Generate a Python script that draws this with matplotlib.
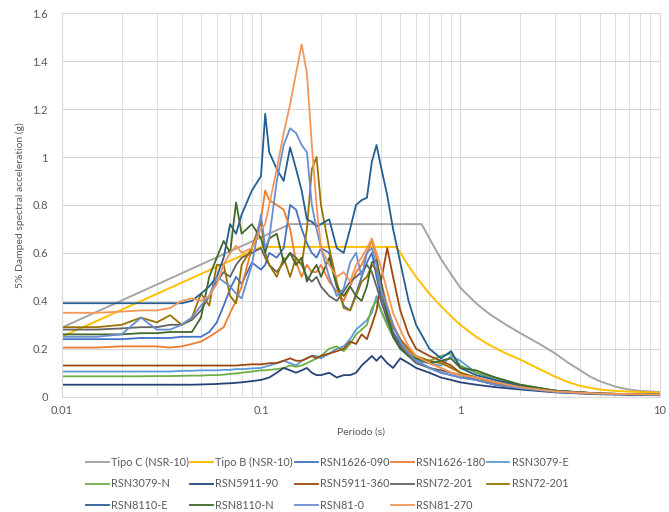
import numpy as np
import matplotlib
matplotlib.use("Agg")
import matplotlib.pyplot as plt
from matplotlib.ticker import FixedLocator, NullFormatter, LogLocator

plt.rcParams['font.family'] = ['Lato', 'DejaVu Sans']

# ---------- Design spectra (NSR-10) ----------
tipo_c_T = [0.01, 0.14, 0.64, 0.7, 0.8, 0.9, 1.0, 1.2, 1.4, 1.7, 2.0, 2.5, 3.0,
            3.5, 4.0, 4.5, 5.0, 6.0, 7.0, 8.0, 10.0]
tipo_c_sa = [0.288, 0.72, 0.72, 0.66, 0.575, 0.51, 0.455, 0.39, 0.345, 0.30, 0.265,
             0.22, 0.18, 0.14, 0.11, 0.083, 0.065, 0.042, 0.03, 0.024, 0.02]

tipo_b_T = [0.01, 0.1, 0.48, 0.55, 0.6, 0.7, 0.8, 0.9, 1.0, 1.2, 1.4, 1.7, 2.0,
            2.5, 3.0, 3.5, 4.0, 5.0, 6.0, 8.0, 10.0]
tipo_b_sa = [0.25, 0.625, 0.625, 0.545, 0.50, 0.43, 0.378, 0.335, 0.30, 0.25, 0.216,
             0.18, 0.155, 0.115, 0.083, 0.06, 0.045, 0.03, 0.024, 0.019, 0.017]

# ---------- Record spectra (5% damping), common period grid ----------
periods = [0.01, 0.015, 0.02, 0.025, 0.03, 0.035, 0.04, 0.045, 0.05, 0.055,
           0.06, 0.065, 0.07, 0.075, 0.08, 0.09, 0.1, 0.105, 0.11, 0.12,
           0.13, 0.14, 0.15, 0.16, 0.17, 0.18, 0.19, 0.2, 0.22, 0.24,
           0.26, 0.28, 0.3, 0.32, 0.34, 0.36, 0.38, 0.4, 0.43, 0.46,
           0.5, 0.55, 0.6, 0.7, 0.8, 0.9, 1.0, 1.2, 1.5, 2.0,
           3.0, 5.0, 10.0]

rsn1626_090 = [0.24, 0.24, 0.24, 0.245, 0.245, 0.245, 0.25, 0.25, 0.25, 0.27,
               0.31, 0.38, 0.45, 0.50, 0.47, 0.56, 0.53, 0.55, 0.60, 0.58,
               0.62, 0.80, 0.78, 0.70, 0.64, 0.60, 0.58, 0.62, 0.60, 0.46,
               0.38, 0.36, 0.43, 0.50, 0.56, 0.60, 0.50, 0.42, 0.34, 0.27,
               0.22, 0.17, 0.15, 0.12, 0.10, 0.09, 0.08, 0.07, 0.05, 0.035,
               0.02, 0.012, 0.008]
rsn1626_180 = [0.205, 0.205, 0.21, 0.21, 0.21, 0.205, 0.21, 0.22, 0.23, 0.25,
               0.27, 0.29, 0.35, 0.40, 0.46, 0.62, 0.74, 0.86, 0.82, 0.80,
               0.78, 0.70, 0.56, 0.50, 0.55, 0.52, 0.52, 0.55, 0.48, 0.44,
               0.40, 0.46, 0.52, 0.55, 0.60, 0.65, 0.58, 0.48, 0.38, 0.30,
               0.24, 0.19, 0.16, 0.14, 0.12, 0.10, 0.09, 0.08, 0.055, 0.04,
               0.022, 0.013, 0.009]
rsn3079_e = [0.105, 0.105, 0.105, 0.105, 0.105, 0.105, 0.108, 0.108, 0.11, 0.11,
             0.11, 0.112, 0.112, 0.115, 0.115, 0.118, 0.12, 0.125, 0.13, 0.14,
             0.15, 0.14, 0.13, 0.15, 0.16, 0.17, 0.17, 0.16, 0.18, 0.20,
             0.21, 0.24, 0.28, 0.30, 0.32, 0.35, 0.42, 0.36, 0.30, 0.25,
             0.20, 0.17, 0.15, 0.14, 0.13, 0.17, 0.15, 0.10, 0.07, 0.045,
             0.025, 0.013, 0.008]
rsn3079_n = [0.085, 0.085, 0.085, 0.085, 0.086, 0.086, 0.087, 0.088, 0.088, 0.09,
             0.09, 0.092, 0.095, 0.097, 0.10, 0.105, 0.11, 0.11, 0.112, 0.115,
             0.12, 0.13, 0.125, 0.13, 0.14, 0.15, 0.16, 0.17, 0.20, 0.21,
             0.19, 0.22, 0.26, 0.28, 0.30, 0.37, 0.40, 0.36, 0.30, 0.25,
             0.21, 0.18, 0.16, 0.15, 0.17, 0.18, 0.13, 0.10, 0.08, 0.05,
             0.025, 0.013, 0.008]
rsn5911_90 = [0.05, 0.05, 0.05, 0.05, 0.05, 0.05, 0.05, 0.05, 0.051, 0.052,
              0.053, 0.055, 0.056, 0.058, 0.06, 0.065, 0.07, 0.075, 0.08, 0.10,
              0.12, 0.11, 0.10, 0.11, 0.12, 0.10, 0.09, 0.09, 0.10, 0.08,
              0.09, 0.09, 0.10, 0.13, 0.15, 0.17, 0.15, 0.17, 0.14, 0.12,
              0.16, 0.14, 0.12, 0.10, 0.08, 0.07, 0.06, 0.05, 0.04, 0.03,
              0.018, 0.01, 0.006]
rsn5911_360 = [0.13, 0.13, 0.13, 0.13, 0.13, 0.13, 0.13, 0.13, 0.13, 0.13,
               0.13, 0.13, 0.13, 0.13, 0.132, 0.135, 0.135, 0.137, 0.14, 0.14,
               0.15, 0.16, 0.15, 0.15, 0.16, 0.17, 0.16, 0.17, 0.18, 0.19,
               0.20, 0.23, 0.22, 0.26, 0.24, 0.30, 0.36, 0.48, 0.62, 0.50,
               0.36, 0.26, 0.20, 0.17, 0.15, 0.13, 0.10, 0.08, 0.06, 0.04,
               0.022, 0.012, 0.008]
rsn72_201_a = [0.28, 0.28, 0.285, 0.29, 0.29, 0.30, 0.30, 0.32, 0.36, 0.42,
               0.48, 0.52, 0.50, 0.55, 0.58, 0.60, 0.62, 0.58, 0.55, 0.52,
               0.56, 0.60, 0.58, 0.55, 0.50, 0.48, 0.50, 0.46, 0.42, 0.40,
               0.44, 0.48, 0.50, 0.52, 0.55, 0.52, 0.46, 0.40, 0.32, 0.26,
               0.21, 0.17, 0.14, 0.12, 0.11, 0.10, 0.09, 0.07, 0.05, 0.035,
               0.02, 0.012, 0.008]
rsn72_201_b = [0.29, 0.29, 0.30, 0.33, 0.31, 0.34, 0.30, 0.33, 0.43, 0.38,
               0.55, 0.55, 0.42, 0.39, 0.55, 0.62, 0.73, 0.60, 0.55, 0.50,
               0.58, 0.50, 0.58, 0.55, 0.70, 0.95, 1.00, 0.80, 0.62, 0.48,
               0.37, 0.36, 0.42, 0.48, 0.50, 0.55, 0.53, 0.45, 0.35, 0.29,
               0.24, 0.20, 0.17, 0.15, 0.14, 0.12, 0.10, 0.08, 0.06, 0.04,
               0.022, 0.013, 0.009]
rsn8110_e = [0.39, 0.39, 0.39, 0.39, 0.39, 0.39, 0.39, 0.40, 0.43, 0.46,
             0.50, 0.58, 0.72, 0.68, 0.76, 0.86, 0.92, 1.18, 1.02, 0.95,
             0.90, 1.04, 0.95, 0.86, 0.74, 0.73, 0.71, 0.72, 0.74, 0.62,
             0.60, 0.70, 0.80, 0.82, 0.83, 0.98, 1.05, 0.96, 0.84, 0.70,
             0.56, 0.40, 0.30, 0.20, 0.16, 0.19, 0.12, 0.09, 0.07, 0.045,
             0.025, 0.013, 0.008]
rsn8110_n = [0.26, 0.26, 0.26, 0.265, 0.265, 0.27, 0.27, 0.27, 0.33, 0.50,
             0.58, 0.65, 0.60, 0.81, 0.68, 0.72, 0.66, 0.60, 0.66, 0.68,
             0.56, 0.60, 0.55, 0.58, 0.48, 0.52, 0.55, 0.50, 0.58, 0.46,
             0.42, 0.46, 0.42, 0.40, 0.46, 0.56, 0.57, 0.48, 0.34, 0.25,
             0.20, 0.17, 0.16, 0.14, 0.15, 0.16, 0.12, 0.11, 0.08, 0.05,
             0.025, 0.013, 0.008]
rsn81_0 = [0.25, 0.25, 0.26, 0.33, 0.28, 0.28, 0.30, 0.33, 0.38, 0.42,
           0.50, 0.48, 0.46, 0.43, 0.41, 0.55, 0.76, 0.62, 0.66, 0.90,
           1.05, 1.12, 1.10, 1.05, 1.02, 0.80, 0.70, 0.62, 0.50, 0.42,
           0.45, 0.56, 0.60, 0.50, 0.60, 0.62, 0.55, 0.45, 0.37, 0.30,
           0.23, 0.18, 0.15, 0.12, 0.10, 0.09, 0.08, 0.07, 0.05, 0.035,
           0.02, 0.012, 0.008]
rsn81_270 = [0.35, 0.35, 0.355, 0.36, 0.36, 0.37, 0.40, 0.41, 0.40, 0.42,
             0.47, 0.55, 0.60, 0.63, 0.60, 0.62, 0.70, 0.72, 0.80, 0.95,
             1.10, 1.22, 1.35, 1.47, 1.35, 1.05, 0.80, 0.62, 0.55, 0.50,
             0.52, 0.48, 0.55, 0.58, 0.62, 0.66, 0.60, 0.54, 0.44, 0.35,
             0.28, 0.21, 0.17, 0.14, 0.12, 0.10, 0.09, 0.08, 0.06, 0.04,
             0.022, 0.013, 0.009]

records = [
    ('RSN1626-090', rsn1626_090, '#4472C4'),
    ('RSN1626-180', rsn1626_180, '#ED7D31'),
    ('RSN3079-E', rsn3079_e, '#5B9BD5'),
    ('RSN3079-N', rsn3079_n, '#70AD47'),
    ('RSN5911-90', rsn5911_90, '#264478'),
    ('RSN5911-360', rsn5911_360, '#9E480E'),
    ('RSN72-201', rsn72_201_a, '#636363'),
    ('RSN72-201', rsn72_201_b, '#997300'),
    ('RSN8110-E', rsn8110_e, '#255E91'),
    ('RSN8110-N', rsn8110_n, '#43682B'),
    ('RSN81-0', rsn81_0, '#698ED0'),
    ('RSN81-270', rsn81_270, '#F1975A'),
]

# ---------- Plot ----------
fig = plt.figure(figsize=(6.69, 5.12), dpi=100)
ax = fig.add_axes([0.0922, 0.2252, 0.8937, 0.749])
grid_col = '#D9D9D9'
txt_col = '#595959'

lines = []
l, = ax.plot(tipo_c_T, tipo_c_sa, color='#A5A5A5', lw=1.4, label='Tipo C (NSR-10)')
lines.append(l)
l, = ax.plot(tipo_b_T, tipo_b_sa, color='#FFC000', lw=1.4, label='Tipo B (NSR-10)')
lines.append(l)
for name, vals, c in records:
    l, = ax.plot(periods, vals, color=c, lw=1.3, label=name)
    lines.append(l)

ax.set_xscale('log')
ax.set_xlim(0.01, 10)
ax.set_ylim(0, 1.6)
ax.xaxis.set_major_locator(FixedLocator([0.01, 0.1, 1, 10]))
ax.set_xticklabels(['0.01', '0.1', '1', '10'])
ax.xaxis.set_minor_locator(LogLocator(base=10, subs=np.arange(2, 10)))
ax.xaxis.set_minor_formatter(NullFormatter())
yt = [0, 0.2, 0.4, 0.6, 0.8, 1.0, 1.2, 1.4, 1.6]
ax.set_yticks(yt)
ax.set_yticklabels(['0', '0.2', '0.4', '0.6', '0.8', '1', '1.2', '1.4', '1.6'])
ax.grid(which='major', color=grid_col, lw=0.8)
ax.grid(which='minor', axis='x', color=grid_col, lw=0.6)
ax.set_axisbelow(True)
for s in ax.spines.values():
    s.set_color(grid_col)
    s.set_linewidth(0.8)
ax.tick_params(which='both', length=0, colors=txt_col, labelsize=8)
ax.tick_params(axis='x', pad=6)
ax.tick_params(axis='y', pad=10)

ax.set_xlabel('Periodo (s)', fontsize=7.5, color=txt_col, labelpad=8)
ax.set_ylabel('5% Damped spectral acceleration (g)', fontsize=7.5, color=txt_col, labelpad=5)

# legend is filled column by column; reorder so it reads row by row
order = [0, 5, 10, 1, 6, 11, 2, 7, 12, 3, 8, 13, 4, 9]
leg = fig.legend([lines[i] for i in order], [lines[i].get_label() for i in order],
                 ncol=5, loc='lower left', bbox_to_anchor=(0.122, -0.007),
                 frameon=False, fontsize=7.8, handlelength=2.1, handletextpad=0.2,
                 columnspacing=0.15, labelspacing=1.0, borderaxespad=0)
for t in leg.get_texts():
    t.set_color(txt_col)

fig.savefig('out.png', dpi=100)
